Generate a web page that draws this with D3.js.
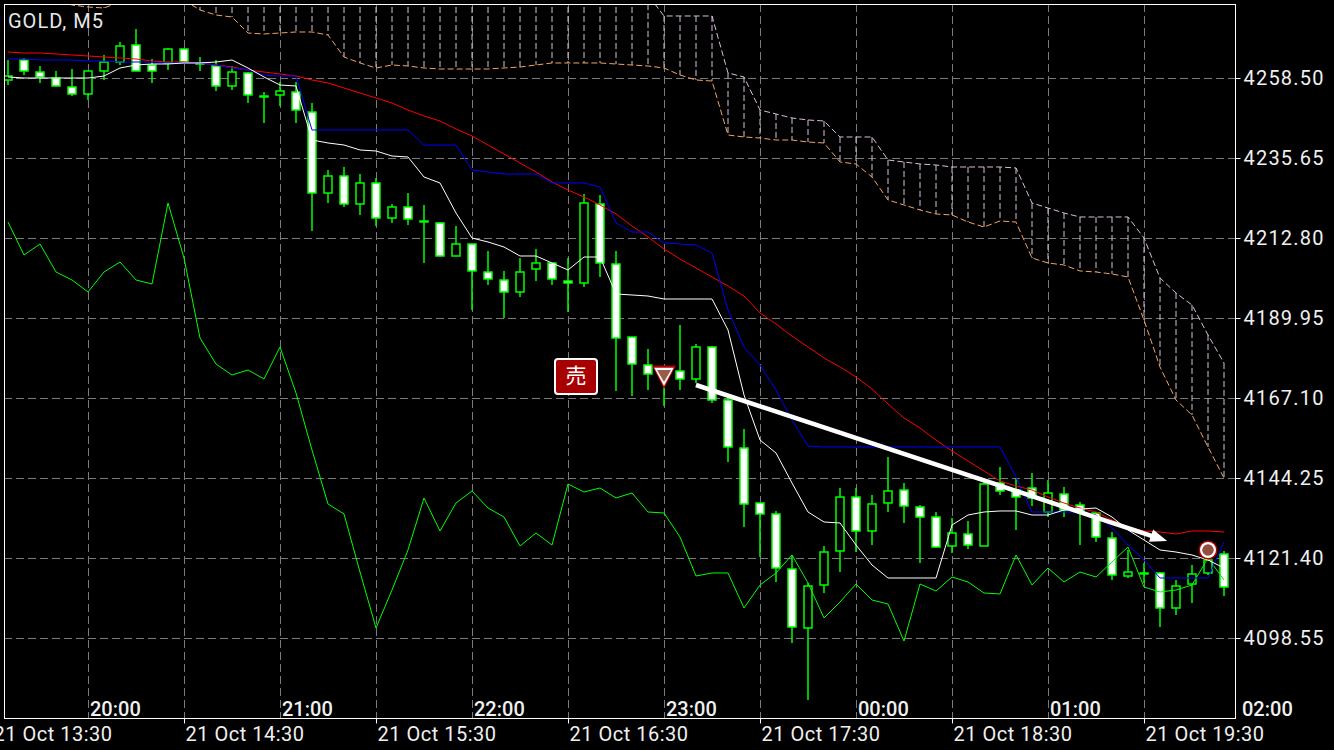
<!DOCTYPE html>
<html><head><meta charset="utf-8">
<script src="https://cdn.jsdelivr.net/npm/d3@7/dist/d3.min.js"></script>
<style>
html,body{margin:0;padding:0;background:#000;}
svg{display:block;}
text{font-family:Roboto,"Noto Sans",sans-serif;}
</style></head><body>
<svg id="chart" width="1334" height="750"></svg>
<script>
// ---------------- DATA ----------------
const chartTitle = "GOLD, M5";
const opens = [4257.93,4263.64,4260.21,4258.50,4255.93,4253.93,4260.50,4263.07,4267.93,4262.21,4262.79,4266.78,4262.79,4261.93,4256.22,4259.93,4253.36,4253.65,4254.50,4248.79,4225.65,4230.51,4222.51,4228.51,4218.51,4221.66,4217.66,4217.09,4207.66,4211.09,4203.09,4200.80,4197.38,4203.95,4205.66,4200.52,4199.95,4222.51,4205.37,4184.52,4176.53,4173.96,4174.81,4172.53,4181.67,4166.53,4152.82,4137.11,4133.97,4118.26,4101.41,4113.69,4123.40,4138.82,4129.11,4137.11,4140.82,4135.97,4133.11,4124.83,4128.26,4124.83,4142.82,4140.82,4141.39,4134.54,4139.68,4136.54,4134.25,4127.11,4116.26,4117.12,4117.12,4107.12,4113.97,4117.12,4122.54];
const highs = [4263.64,4264.21,4261.93,4260.50,4261.07,4260.50,4265.07,4268.78,4272.50,4263.93,4267.07,4267.07,4264.50,4263.64,4261.93,4260.21,4254.50,4257.36,4257.36,4251.36,4232.22,4233.08,4231.08,4229.94,4222.51,4225.65,4222.23,4217.20,4216.23,4211.09,4209.09,4203.38,4207.09,4209.66,4205.66,4207.09,4225.37,4225.08,4209.09,4184.52,4181.10,4175.96,4187.95,4182.52,4181.95,4167.39,4158.25,4137.11,4134.83,4122.26,4114.26,4124.83,4141.39,4141.39,4139.40,4150.25,4142.82,4136.54,4134.54,4132.83,4131.97,4143.11,4147.39,4144.25,4145.68,4143.68,4141.68,4137.40,4134.54,4128.83,4123.69,4119.97,4117.40,4115.12,4119.40,4124.54,4123.40];
const lows = [4256.50,4259.36,4257.07,4256.22,4253.36,4252.22,4257.93,4262.21,4260.50,4257.07,4260.79,4262.79,4260.50,4254.79,4255.07,4251.36,4245.65,4250.50,4245.65,4214.80,4222.80,4221.66,4219.37,4216.23,4217.09,4216.51,4205.66,4207.50,4207.66,4192.24,4199.38,4189.95,4195.95,4200.52,4199.38,4191.66,4198.81,4201.66,4169.10,4167.67,4169.39,4164.82,4169.39,4171.39,4165.67,4148.82,4130.26,4121.69,4114.55,4097.12,4080.84,4111.40,4117.40,4123.11,4125.11,4134.54,4131.40,4119.97,4124.26,4122.83,4123.97,4124.83,4139.40,4129.40,4136.25,4133.11,4133.11,4125.11,4125.97,4115.12,4115.69,4114.26,4101.69,4105.12,4108.55,4116.55,4110.55];
const closes = [4259.07,4260.50,4258.79,4256.22,4253.93,4260.50,4263.07,4267.64,4260.50,4260.50,4266.78,4263.07,4262.65,4256.22,4260.21,4253.65,4253.30,4254.79,4249.36,4225.65,4230.51,4222.51,4228.51,4218.51,4221.66,4218.23,4217.60,4207.66,4211.09,4203.38,4201.09,4197.38,4203.09,4205.66,4201.09,4199.95,4222.80,4205.66,4184.24,4176.81,4173.96,4175.10,4172.53,4181.67,4166.53,4153.11,4136.83,4133.97,4118.54,4101.69,4113.40,4123.11,4138.82,4129.11,4136.83,4140.54,4136.25,4133.11,4124.54,4128.54,4125.11,4142.54,4140.54,4138.82,4138.54,4139.97,4135.11,4134.54,4127.40,4116.55,4117.40,4117.00,4107.12,4113.40,4116.83,4120.83,4113.12];
// red moving average
const maLine = [4265.93,4265.64,4265.64,4265.36,4265.07,4264.79,4264.50,4264.21,4263.93,4263.36,4263.07,4263.07,4262.79,4262.21,4261.64,4260.79,4260.21,4259.64,4259.07,4257.93,4257.07,4255.64,4254.22,4252.79,4251.36,4249.36,4247.65,4246.22,4243.93,4241.93,4239.36,4236.79,4234.22,4231.65,4228.80,4226.51,4224.51,4222.23,4219.66,4216.23,4213.09,4209.66,4206.80,4204.23,4201.66,4199.09,4196.23,4191.38,4188.24,4184.81,4181.67,4178.53,4175.96,4173.10,4169.67,4165.39,4161.39,4158.53,4155.10,4151.96,4149.11,4146.25,4143.39,4141.97,4140.82,4138.82,4137.11,4135.68,4134.54,4132.25,4130.26,4129.11,4128.83,4128.26,4129.11,4129.11,4128.83];
// white tenkan-sen
const tenkan = [4258.79,4258.50,4258.50,4258.50,4258.50,4258.50,4259.07,4261.36,4262.21,4262.50,4262.50,4262.79,4262.79,4263.07,4263.64,4261.36,4258.79,4256.50,4256.22,4240.79,4239.94,4239.36,4237.94,4237.65,4236.22,4235.94,4230.22,4228.51,4219.94,4212.80,4211.66,4210.23,4207.66,4207.66,4205.66,4203.66,4207.37,4207.37,4196.81,4196.52,4196.23,4195.38,4195.38,4195.38,4195.38,4186.52,4167.96,4155.10,4151.39,4142.82,4134.54,4131.68,4131.40,4125.11,4119.40,4115.69,4115.69,4115.69,4115.69,4130.83,4133.68,4134.54,4134.83,4134.83,4133.68,4133.68,4135.11,4135.40,4135.68,4133.11,4129.40,4126.54,4123.69,4123.11,4122.26,4120.83,4118.54];
// blue kijun-sen
const kijun = [4263.93,4263.93,4263.64,4263.64,4263.64,4263.36,4263.36,4263.07,4263.07,4263.07,4262.79,4262.79,4262.79,4262.21,4261.36,4260.79,4259.36,4259.07,4259.07,4243.65,4243.65,4243.65,4243.65,4243.65,4243.65,4243.65,4239.36,4239.36,4239.36,4232.22,4231.65,4231.08,4231.08,4231.08,4228.51,4228.51,4228.51,4227.37,4217.09,4214.51,4214.51,4211.37,4211.09,4210.80,4208.52,4192.24,4181.67,4176.53,4169.39,4160.82,4153.39,4153.11,4153.11,4153.11,4153.11,4153.11,4153.11,4153.11,4153.11,4153.11,4153.11,4153.11,4153.11,4144.54,4134.54,4134.54,4134.54,4134.54,4133.68,4129.97,4125.11,4120.83,4115.69,4115.69,4115.69,4115.69,4125.97];
// green (chikou-style) line
const greenLine = [4217.37,4207.95,4211.09,4203.09,4200.80,4197.38,4203.09,4205.95,4200.80,4199.66,4222.80,4207.09,4184.24,4176.81,4173.67,4175.10,4172.53,4181.67,4168.53,4152.25,4136.83,4133.97,4117.40,4101.41,4112.26,4123.69,4138.54,4129.11,4137.11,4140.54,4135.68,4133.11,4124.83,4128.54,4125.11,4142.54,4140.25,4141.39,4138.54,4139.97,4134.54,4134.25,4127.40,4116.26,4117.12,4117.12,4107.12,4113.69,4117.12,4122.26,4114.26,4104.26,4108.83,4113.97,4109.40,4108.26,4097.69,4113.97,4111.97,4115.97,4114.55,4111.40,4111.12,4122.26,4113.69,4118.54,4114.55,4117.40,4115.97,4120.26,4124.54,4113.12,4111.69,4112.26,4113.69,4121.40,4115.12];
// senkou span A (orange) and B (thistle)
const spanA = [4283.64,4283.07,4282.21,4280.78,4279.35,4278.78,4278.50,4280.21,4281.64,4281.64,4281.35,4280.78,4277.92,4276.50,4275.92,4271.35,4271.07,4271.35,4271.64,4271.64,4270.78,4264.50,4262.79,4261.36,4262.21,4261.93,4261.36,4261.07,4261.07,4261.07,4261.07,4261.36,4261.64,4262.21,4262.79,4262.79,4262.79,4262.79,4262.50,4262.21,4261.93,4261.36,4259.36,4257.93,4257.64,4242.22,4241.65,4241.36,4240.79,4240.79,4240.22,4239.94,4234.51,4233.94,4230.22,4223.66,4222.23,4220.80,4219.66,4219.37,4217.37,4215.94,4217.66,4217.37,4207.09,4205.66,4205.09,4203.38,4203.09,4202.52,4201.66,4189.38,4175.96,4166.53,4162.25,4153.11,4144.25];
const spanB = [4286.49,4286.49,4286.49,4286.49,4286.49,4286.49,4286.49,4286.49,4286.49,4286.49,4286.49,4286.49,4286.49,4286.49,4286.49,4286.49,4286.49,4286.49,4286.49,4286.49,4286.49,4286.49,4286.49,4286.49,4286.49,4286.49,4286.49,4286.49,4286.49,4286.49,4286.49,4286.49,4286.49,4286.49,4286.49,4286.49,4286.49,4286.49,4286.49,4286.49,4282.21,4276.21,4276.21,4276.21,4276.21,4259.93,4258.79,4249.36,4248.22,4247.08,4246.51,4246.22,4241.65,4241.65,4241.65,4235.08,4234.51,4233.94,4233.65,4233.08,4233.08,4233.08,4233.08,4232.80,4222.80,4221.37,4219.94,4218.80,4218.80,4218.80,4218.80,4212.80,4201.38,4197.09,4193.66,4185.10,4177.10];
// axis ticks
const priceTicks = [4258.50,4235.65,4212.80,4189.95,4167.10,4144.25,4121.40,4098.55];
const bottomTickIdx = [-1,11,23,35,47,59,71];
const bottomTickLabels = ["21 Oct 13:30","21 Oct 14:30","21 Oct 15:30","21 Oct 16:30","21 Oct 17:30","21 Oct 18:30","21 Oct 19:30"];
const localTickIdx = [5,17,29,41,53,65,77];
const localTickLabels = ["20:00","21:00","22:00","23:00","00:00","01:00","02:00"];
const gridIdx = [5,11,17,23,29,35,41,47,53,59,65,71];
// trade objects
const sellLabel = "売";
const sellMarkIdx = [41];
const sellMarkPrice = [4175.96];
const tradeLineIdx = [43, 72.45];
const tradeLinePrice = [4170.81, 4126.26];
const closeMarkIdx = [75];
const closeMarkPrice = [4123.69];

// ---------------- DRAWING ----------------
const W = 1334, H = 750;
const plot = {left: 4, top: 4, right: 1235, bottom: 718};
const svg = d3.select("#chart");
svg.append("rect").attr("width", W).attr("height", H).attr("fill", "#000");

const x = d3.scaleLinear().domain([0, 76]).range([8, 1224]);
const y = d3.scaleLinear().domain([4098.55, 4258.50]).range([638, 78]);

svg.append("defs").append("clipPath").attr("id", "clip")
  .append("rect").attr("x", plot.left).attr("y", plot.top)
  .attr("width", plot.right - plot.left).attr("height", plot.bottom - plot.top);

const g = svg.append("g").attr("clip-path", "url(#clip)");

// grid
const gridColor = "#7a7a7a";
g.append("g").selectAll("line").data(gridIdx).join("line")
  .attr("x1", d => x(d)).attr("x2", d => x(d))
  .attr("y1", plot.top).attr("y2", plot.bottom)
  .attr("stroke", gridColor).attr("stroke-width", 1).attr("stroke-dasharray", "8,4")
  .attr("shape-rendering", "crispEdges");
g.append("g").selectAll("line").data(priceTicks).join("line")
  .attr("x1", plot.left).attr("x2", plot.right)
  .attr("y1", d => Math.round(y(d)) + 0.5).attr("y2", d => Math.round(y(d)) + 0.5)
  .attr("stroke", gridColor).attr("stroke-width", 1).attr("stroke-dasharray", "8,4");

// cloud hatch
const idx = d3.range(opens.length);
g.append("g").selectAll("line").data(idx).join("line")
  .attr("x1", i => x(i)).attr("x2", i => x(i))
  .attr("y1", i => y(spanB[i])).attr("y2", i => y(spanA[i]))
  .attr("stroke", "#d8bfd8").attr("stroke-width", 1).attr("stroke-dasharray", "6,3");

const lineGen = arr => d3.line().x((d, i) => x(i)).y(d => y(d))(arr);
g.append("path").attr("d", lineGen(spanB)).attr("fill", "none")
  .attr("stroke", "#d8bfd8").attr("stroke-width", 1).attr("stroke-dasharray", "6,3");
g.append("path").attr("d", lineGen(spanA)).attr("fill", "none")
  .attr("stroke", "#f4a460").attr("stroke-width", 1).attr("stroke-dasharray", "6,3");

// candles
const cg = g.append("g");
cg.selectAll("line").data(idx).join("line")
  .attr("x1", i => x(i)).attr("x2", i => x(i))
  .attr("y1", i => y(highs[i])).attr("y2", i => y(lows[i]))
  .attr("stroke", "#00ff00").attr("stroke-width", 1.5);
cg.selectAll("rect").data(idx).join("rect")
  .attr("x", i => x(i) - 4).attr("width", 8)
  .attr("y", i => y(Math.max(opens[i], closes[i])))
  .attr("height", i => Math.max(1, Math.abs(y(opens[i]) - y(closes[i]))))
  .attr("fill", i => closes[i] < opens[i] ? "#ffffff" : "#000000")
  .attr("stroke", "#00ff00").attr("stroke-width", 1.5);

// indicator lines
g.append("path").attr("d", lineGen(greenLine)).attr("fill", "none").attr("stroke", "#00ff00").attr("stroke-width", 1);
g.append("path").attr("d", lineGen(maLine)).attr("fill", "none").attr("stroke", "#ff0000").attr("stroke-width", 1);
g.append("path").attr("d", lineGen(kijun)).attr("fill", "none").attr("stroke", "#0000ff").attr("stroke-width", 1);
g.append("path").attr("d", lineGen(tenkan)).attr("fill", "none").attr("stroke", "#ffffff").attr("stroke-width", 1);

// trade arrow
{
  const p0 = [x(tradeLineIdx[0]), y(tradeLinePrice[0])];
  const p1 = [x(tradeLineIdx[1]), y(tradeLinePrice[1])];
  const dx = p1[0] - p0[0], dy = p1[1] - p0[1];
  const len = Math.hypot(dx, dy);
  const ux = dx / len, uy = dy / len, nx = -uy, ny = ux;
  const headL = 17, headW = 6.5;
  const base = [p1[0] - ux * headL, p1[1] - uy * headL];
  g.append("line").attr("x1", p0[0]).attr("y1", p0[1]).attr("x2", base[0] + ux * 2).attr("y2", base[1] + uy * 2)
    .attr("stroke", "#ffffff").attr("stroke-width", 4.5);
  g.append("path").attr("d", d3.line()([
      p1, [base[0] + nx * headW, base[1] + ny * headW], [base[0] - nx * headW, base[1] - ny * headW]
    ]) + "Z").attr("fill", "#ffffff");
}

// sell marker (triangle)
{
  const cx = x(sellMarkIdx[0]), top = y(sellMarkPrice[0]);
  const tri = (hw, t, b) => d3.line()([[cx - hw, top + t], [cx + hw, top + t], [cx, top + b]]) + "Z";
  g.append("path").attr("d", tri(12, -1.5, 22)).attr("fill", "#b00000");
  g.append("path").attr("d", tri(9.8, 0.8, 19)).attr("fill", "#ffffff");
  g.append("path").attr("d", tri(7, 3, 15)).attr("fill", "rgba(110,30,0,0.72)");
  // sell label box
  const bw = 42, bh = 35;
  const bx = cx - 109, by = top - 8;
  svg.append("rect").attr("x", bx).attr("y", by).attr("width", bw).attr("height", bh)
    .attr("rx", 3).attr("fill", "#a80000").attr("stroke", "#ffffff").attr("stroke-width", 2);
  svg.append("text").attr("x", bx + bw / 2).attr("y", by + bh / 2 + 7)
    .attr("text-anchor", "middle").attr("fill", "#ffffff").attr("font-size", 21)
    .style("font-family", "'Noto Sans CJK JP','Noto Sans CJK SC',sans-serif").text(sellLabel);
}

// close marker (circle)
{
  const cx = x(closeMarkIdx[0]), cy = y(closeMarkPrice[0]);
  g.append("circle").attr("cx", cx).attr("cy", cy).attr("r", 9.5).attr("fill", "#b00000");
  g.append("circle").attr("cx", cx).attr("cy", cy).attr("r", 8).attr("fill", "#ffffff");
  g.append("circle").attr("cx", cx).attr("cy", cy).attr("r", 5.8).attr("fill", "rgba(110,20,0,0.75)");
}

// frame
svg.append("rect").attr("x", plot.left + 0.5).attr("y", plot.top + 0.5)
  .attr("width", plot.right - plot.left).attr("height", plot.bottom - plot.top)
  .attr("fill", "none").attr("stroke", "#ffffff").attr("stroke-width", 1);

// right price axis
const yAxis = svg.append("g").attr("transform", `translate(${plot.right + 0.5},0)`)
  .call(d3.axisRight(y).tickValues(priceTicks).tickFormat(d3.format(".2f")).tickSize(5).tickPadding(3));
yAxis.select(".domain").remove();
yAxis.selectAll("line").attr("stroke", "#ffffff");
yAxis.selectAll("text").attr("fill", "#f0f0f0").attr("font-size", 20)
  .style("letter-spacing", "1.2px").style("font-family", "Roboto,sans-serif");

// bottom time axis
const xAxis = svg.append("g").attr("transform", `translate(0,${plot.bottom + 0.5})`)
  .call(d3.axisBottom(x).tickValues(bottomTickIdx).tickFormat((d, i) => bottomTickLabels[i]).tickSize(5).tickPadding(3));
xAxis.select(".domain").remove();
xAxis.selectAll("line").attr("stroke", "#ffffff");
xAxis.selectAll("text").attr("fill", "#f0f0f0").attr("font-size", 20)
  .attr("text-anchor", "start").attr("x", 1)
  .style("letter-spacing", "0.5px").style("font-family", "Roboto,sans-serif");

// local time labels (inside plot, bottom)
svg.append("g").selectAll("text").data(localTickIdx).join("text")
  .attr("x", d => x(d) + 2).attr("y", plot.bottom - 2)
  .attr("fill", "#f0f0f0").attr("font-size", 20).attr("font-weight", 500)
  .text((d, i) => localTickLabels[i]);

// title
svg.append("text").attr("x", 8).attr("y", 28).attr("fill", "#e8e8e8")
  .attr("font-size", 20).style("letter-spacing", "1px").text(chartTitle);
</script>
</body></html>
